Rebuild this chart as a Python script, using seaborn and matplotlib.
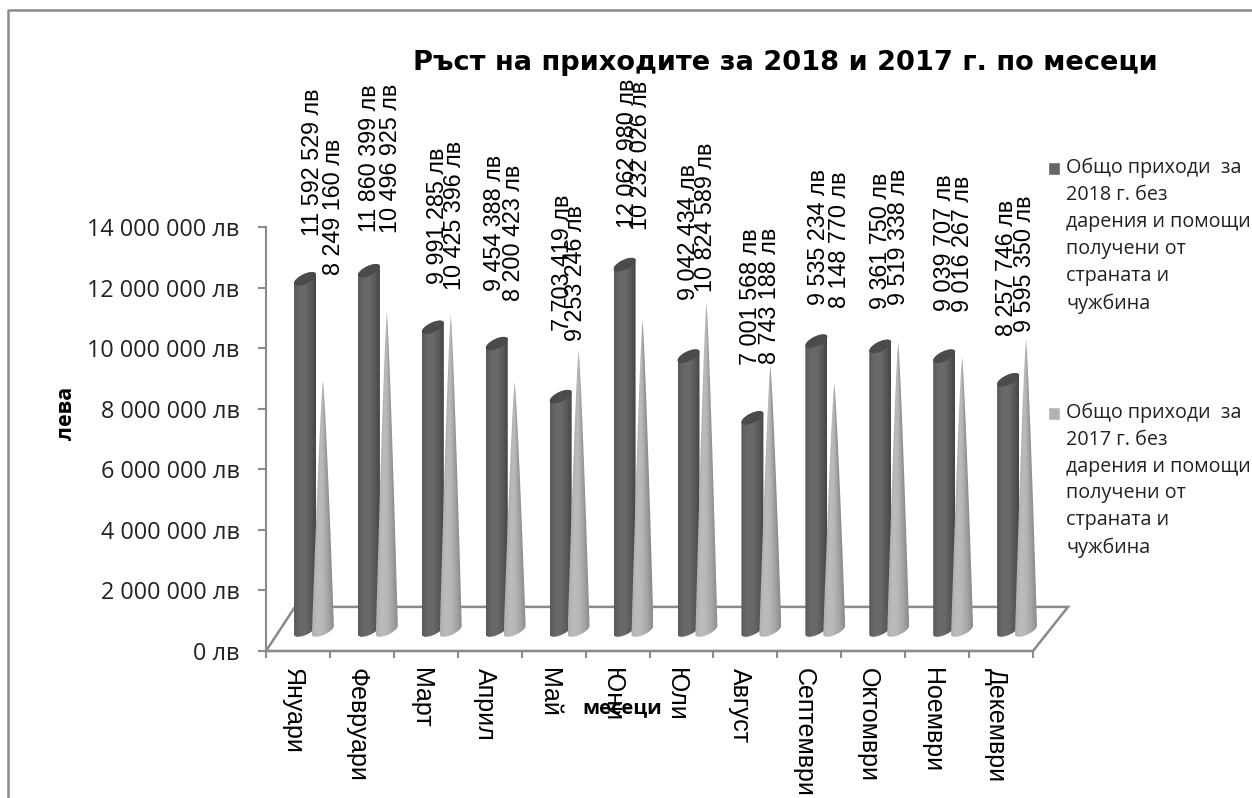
import numpy as np
import pandas as pd
import matplotlib
matplotlib.use("Agg")
import matplotlib.pyplot as plt
from matplotlib.patches import Polygon, Rectangle
from matplotlib.legend_handler import HandlerPatch
from matplotlib.ticker import FuncFormatter
from matplotlib.colors import LinearSegmentedColormap
import seaborn as sns

# ---- data ----
months = ["Януари", "Февруари", "Март", "Април", "Май", "Юни", "Юли", "Август",
          "Септември", "Октомври", "Ноември", "Декември"]
income_2018 = [11592529, 11860399, 9991285, 9454388, 7703419, 12062980,
               9042434, 7001568, 9535234, 9361750, 9039707, 8257746]
income_2017 = [8249160, 10496925, 10425396, 8200423, 9253246, 10232026,
               10824589, 8743188, 8148770, 9519338, 9016267, 9595350]
series_2018 = "Общо приходи  за\n2018 г. без\nдарения и помощи\nполучени от\nстраната и\nчужбина"
series_2017 = "Общо приходи  за\n2017 г. без\nдарения и помощи\nполучени от\nстраната и\nчужбина"
title = "Ръст на приходите за 2018 и 2017 г. по месеци"

# ---- manual label placement (pixels from the top of each bar), as in the original ----
shift_2018 = [(7, 117), (1, 113), (5, 112), (-2, 121), (2, 134), (3, 111),
              (0, 124), (-2, 121), (2, 104), (0, 106), (0, 114), (-2, 112)]
shift_2017 = [(11, 173), (4, 154), (4, 99), (-1, 149), (-3, 77), (-2, 165),
              (-1, 85), (-1, 69), (5, 143), (0, 105), (0, 113), (-1, 76)]

W, H = 1252, 798
GREY = "#8a8a8a"
DARK_CAP = "#4b4b4b"
DARK_MAP = LinearSegmentedColormap.from_list("d", ["#5a5a5a", "#686868", "#6a6a6a", "#5c5c5c", "#454545"])
LIGHT_MAP = LinearSegmentedColormap.from_list("l", ["#b0b0b0", "#bcbcbc", "#b6b6b6", "#a6a6a6", "#8c8c8c"])

sns.set_theme(style="white")
plt.rcParams["font.family"] = ["Open Sans", "DejaVu Sans"]
fig = plt.figure(figsize=(W / 100, H / 100), dpi=100, facecolor="white")


def axes_px(left, top, right, bottom):
    return fig.add_axes([left / W, 1 - bottom / H, (right - left) / W, (bottom - top) / H])


# front plane: scale, ticks, floor
ax = axes_px(266, 227, 1033, 651)
ax.set_xlim(0, 12)
ax.set_ylim(0, 14000000)
for s in ("top", "right"):
    ax.spines[s].set_visible(False)
for s in ("left", "bottom"):
    ax.spines[s].set_color(GREY)
    ax.spines[s].set_linewidth(1.5)
ax.set_yticks(np.arange(0, 14000001, 2000000))
ax.yaxis.set_major_formatter(FuncFormatter(lambda v, _: f"{int(v):,}".replace(",", " ") + " лв"))
ax.tick_params(axis="y", length=6, width=1.5, color=GREY, pad=13, labelsize=16.8, labelcolor="#222222", left=True)
ax.set_xticks(np.arange(13))
ax.set_xticklabels([])
ax.tick_params(axis="x", which="major", length=5, width=1.5, color=GREY, bottom=True)
ax.set_xticks(np.arange(12) + 0.42, minor=True)
ax.set_xticklabels(months, minor=True, rotation=270, fontsize=18, family="Liberation Sans",
                   color="black", ha="center", va="top")
ax.tick_params(axis="x", which="minor", length=0, pad=12)
ax.add_patch(Polygon([(0, 0), (0.0378, 0.104), (1.0456, 0.104), (1, 0)], closed=True, fill=False,
                     edgecolor=GREY, linewidth=1.8, transform=ax.transAxes, clip_on=False, zorder=1))

# bars stand in the middle of the floor depth
ax_b = axes_px(282, 206, 1049, 630)
ax_b.patch.set_alpha(0)
df = pd.DataFrame({
    "месец": months * 2,
    "лева": income_2018 + income_2017,
    "серия": ["2018"] * 12 + ["2017"] * 12,
})
sns.barplot(data=df, x="месец", y="лева", hue="серия", hue_order=["2018", "2017"], ax=ax_b,
            order=months, width=0.56, gap=0, dodge=True, legend=False,
            palette={"2018": "#666666", "2017": "#b3b3b3"}, errorbar=None, saturation=1)
ax_b.set_xlim(-0.5, 11.5)
ax_b.set_ylim(0, 14000000)
ax_b.axis("off")

px_x = 767 / 12           # pixels per category
px_y = 424 / 14000000     # pixels per lev
TILT = np.deg2rad(26)
A, B = 12.0, 4.8
TAPER = 0.8               # cone sides bulge slightly


def ell(cx, y, t):
    """Point on a tilted ellipse round (cx, y); offsets in px converted to data units."""
    ex, ey = A * np.cos(t), B * np.sin(t)
    dx = ex * np.cos(TILT) - ey * np.sin(TILT)
    dy = ex * np.sin(TILT) + ey * np.cos(TILT)
    return cx + dx / px_x, y + dy / px_y


def fill_gradient(axis, verts, cmap, image, x0, x1, y1, z):
    poly = Polygon(verts, closed=True, transform=axis.transData, facecolor="none", edgecolor="none",
                   clip_on=False)
    axis.add_patch(poly)
    im = axis.imshow(image, cmap=cmap, aspect="auto", origin="lower", vmin=0, vmax=1,
                     extent=(x0, x1, -1500000, y1), zorder=z, interpolation="bilinear")
    im.set_clip_box(fig.bbox)
    im.set_clip_path(poly)


bars = list(ax_b.patches)
bars_2018, bars_2017 = bars[:12], bars[12:]
low = np.linspace(np.pi * 0.94, np.pi * 1.94, 30)
up = np.linspace(np.pi * 1.94, np.pi * 0.94 + 2 * np.pi, 30)
half_w = 11 / px_x
for b in bars_2018:
    cx = b.get_x() + b.get_width() / 2
    h = b.get_height()
    b.set_visible(False)
    verts = [ell(cx, 0, t) for t in low] + [ell(cx, h, t) for t in up]
    fill_gradient(ax_b, verts, DARK_MAP, np.linspace(0, 1, 64).reshape(1, -1),
                  cx - half_w, cx + half_w, h + 300000, 2)
    cap = [ell(cx, h, t) for t in np.linspace(0, 2 * np.pi, 60)]
    ax_b.add_patch(Polygon(cap, closed=True, facecolor=DARK_CAP, edgecolor="none", zorder=3))
for b in bars_2017:
    cx = b.get_x() + b.get_width() / 2
    h = b.get_height()
    b.set_visible(False)
    f = np.linspace(0, 1, 25)[1:]
    side = (1 - f) ** TAPER
    x_r, y_r = ell(cx, 0, low[-1])
    x_l, y_l = ell(cx, 0, low[0])
    right_edge = [(cx + (x_r - cx) * s, y_r + (h - y_r) * q) for s, q in zip(side, f)]
    left_edge = [(cx + (x_l - cx) * s, y_l + (h - y_l) * q) for s, q in zip(side, f)][::-1]
    verts = [ell(cx, 0, t) for t in low] + right_edge + left_edge
    # shading follows the taper, so the narrow tip keeps a light and a dark side
    top = h + 300000
    ys = np.linspace(-1500000, top, 200)
    xs = np.linspace(-1, 1, 64)
    taper = np.clip(1 - ys / h, 0.02, 1) ** TAPER
    shade = np.clip((xs[None, :] / taper[:, None] + 1) / 2, 0, 1)
    fill_gradient(ax_b, verts, LIGHT_MAP, shade, cx - half_w, cx + half_w, top, 4)
ax_b.set_xlim(-0.5, 11.5)
ax_b.set_ylim(0, 14000000)

# data labels
lab_font = dict(rotation=90, ha="center", va="center", fontsize=16.8, family="Liberation Sans",
                color="black", textcoords="offset pixels", annotation_clip=False, zorder=6)
for b, v, s in zip(bars_2018, income_2018, shift_2018):
    ax_b.annotate(f"{v:,}".replace(",", " ") + " лв", xy=(b.get_x() + b.get_width() / 2, v), xytext=s, **lab_font)
for b, v, s in zip(bars_2017, income_2017, shift_2017):
    ax_b.annotate(f"{v:,}".replace(",", " ") + " лв", xy=(b.get_x() + b.get_width() / 2, v), xytext=s, **lab_font)

# texts
fig.text(785.5 / W, 1 - 63 / H, title, ha="center", va="center", fontsize=19.6, fontweight="bold",
         family="DejaVu Sans", color="black")
fig.text(67 / W, 1 - 413 / H, "лева", rotation=90, ha="center", va="center", fontsize=15.5, fontweight="bold", color="black")
fig.text(622 / W, 1 - 708 / H, "месеци", ha="center", va="center", fontsize=14.5, fontweight="bold", color="black")

# chart frame
fig.add_artist(plt.Line2D([8 / W, 8 / W, 1], [0, 1 - 10 / H, 1 - 10 / H], color=GREY, lw=1.8))


# legend
def square(legend, orig_handle, xdescent, ydescent, width, height, fontsize):
    return Rectangle((-xdescent, -ydescent + 48.6), width, height)


h1 = Rectangle((0, 0), 1, 1, facecolor="#666666")
h2 = Rectangle((0, 0), 1, 1, facecolor="#b3b3b3")
leg = fig.legend([h1, h2], [series_2018, series_2017], loc="upper left",
                 bbox_to_anchor=(1038 / W, 1 - 148 / H), frameon=False, fontsize=14.2,
                 handlelength=0.62, handleheight=0.62, handletextpad=0.31, labelspacing=4.5,
                 borderpad=0, labelcolor="#222222",
                 handler_map={Rectangle: HandlerPatch(patch_func=square)})
for t in leg.get_texts():
    t.set_linespacing(1.46)

fig.savefig("out.png", dpi=100, facecolor="white")
